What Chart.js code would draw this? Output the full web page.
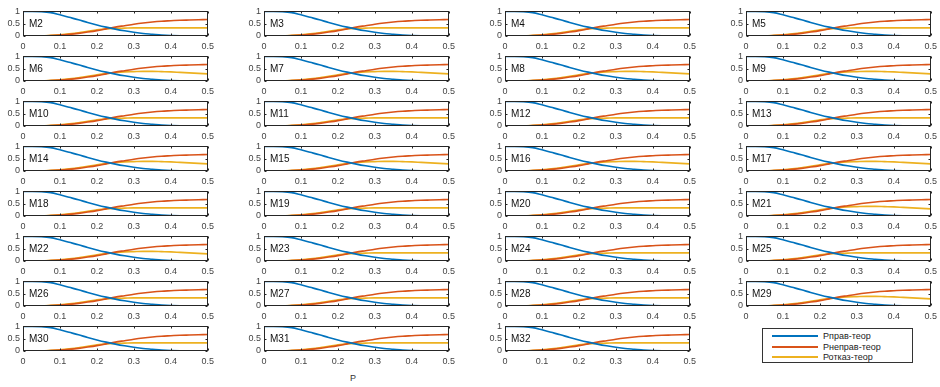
<!DOCTYPE html>
<html>
<head>
<meta charset="utf-8">
<script src="https://cdn.jsdelivr.net/npm/chart.js@4/dist/chart.umd.min.js"></script>
<style>
  body { margin: 0; background: #fff; }
  #wrap { position: relative; width: 940px; height: 387px; overflow: hidden; background: #fff; }
  #wrap canvas { position: absolute; }
  #legend {
    position: absolute; left: 762px; top: 328px; width: 151px; height: 35px;
    border: 1px solid #333; background: #fff; box-sizing: border-box;
    font: 9px "Liberation Sans", Arial, sans-serif; color: #222;
    padding-top: 2px;
  }
  #legend .row { display: flex; align-items: center; height: 10.5px; }
  #legend .sw { width: 46px; height: 2px; margin-left: 9px; margin-right: 5px; }
  #xlabel { position: absolute; left: 350px; top: 373px; font: 9px "Liberation Sans", Arial, sans-serif; color: #333; }
</style>
</head>
<body>
<div id="wrap">
  <div id="legend"></div>
  <div id="xlabel">P</div>
</div>
<script>
// probability values on the x axis
const pValues = [0, 0.025, 0.05, 0.075, 0.1, 0.125, 0.15, 0.175, 0.2, 0.225, 0.25,
                 0.275, 0.3, 0.325, 0.35, 0.375, 0.4, 0.425, 0.45, 0.475, 0.5];

const pPravTeor = [1.00, 1.00, 0.99, 0.95, 0.86, 0.76, 0.66, 0.55, 0.45, 0.36, 0.28,
                   0.21, 0.15, 0.10, 0.07, 0.04, 0.02, 0.01, 0.005, 0.002, 0.0];
const pNepravTeor = [0, 0.001, 0.005, 0.015, 0.035, 0.065, 0.105, 0.16, 0.22, 0.29, 0.36,
                     0.42, 0.48, 0.53, 0.57, 0.60, 0.62, 0.64, 0.65, 0.66, 0.67];
// two shapes of the refusal curve: flat tail and slight hump
const pOtkazFlat = [0, 0.001, 0.005, 0.025, 0.05, 0.085, 0.13, 0.19, 0.25, 0.29, 0.31,
                    0.32, 0.33, 0.33, 0.33, 0.33, 0.33, 0.33, 0.33, 0.33, 0.33];
const pOtkazHump = [0, 0.001, 0.005, 0.025, 0.05, 0.085, 0.13, 0.19, 0.25, 0.30, 0.34,
                    0.37, 0.38, 0.39, 0.39, 0.38, 0.37, 0.35, 0.33, 0.31, 0.29];

const panelNames = ['M2','M3','M4','M5','M6','M7','M8','M9','M10','M11','M12','M13',
                    'M14','M15','M16','M17','M18','M19','M20','M21','M22','M23','M24','M25',
                    'M26','M27','M28','M29','M30','M31','M32'];
const humpPanels = ['M6','M7','M8','M9','M14','M15','M16','M17','M21','M22','M29'];

const seriesLabels = ['Pправ-теор', 'Pнеправ-теор', 'Ротказ-теор'];
const seriesColors = ['#0072BD', '#D95319', '#EDB120'];

const yTicks = [0, 0.5, 1];
const xTicks = [0, 0.1, 0.2, 0.3, 0.4, 0.5];

// box around the axes, inward ticks and the panel name
const boxPlugin = {
  id: 'matlabBox',
  afterDraw(chart, args, opts) {
    const { ctx, chartArea: a, scales } = chart;
    ctx.save();
    ctx.strokeStyle = '#262626';
    ctx.lineWidth = 1;
    const l = Math.round(a.left) + 0.5, r = Math.round(a.right) - 0.5;
    const t = Math.round(a.top) + 0.5, b = Math.round(a.bottom) - 0.5;
    ctx.strokeRect(l, t, r - l, b - t);
    ctx.beginPath();
    xTicks.forEach(v => {
      const x = Math.round(scales.x.getPixelForValue(v)) + 0.5;
      ctx.moveTo(x, b); ctx.lineTo(x, b - 2);
      ctx.moveTo(x, t); ctx.lineTo(x, t + 2);
    });
    yTicks.forEach(v => {
      const y = Math.round(scales.y.getPixelForValue(v)) + 0.5;
      ctx.moveTo(l, y); ctx.lineTo(l + 2, y);
      ctx.moveTo(r, y); ctx.lineTo(r - 2, y);
    });
    ctx.stroke();
    ctx.fillStyle = '#111';
    ctx.font = '10px "Liberation Sans", Arial, sans-serif';
    ctx.textBaseline = 'middle';
    ctx.fillText(opts.text, a.left + 6, a.top + (a.bottom - a.top) * 0.52);
    ctx.restore();
  }
};

const wrap = document.getElementById('wrap');
const tickFont = { family: '"Liberation Sans", Arial, sans-serif', size: 9 };

panelNames.forEach((name, i) => {
  const col = i % 4, row = Math.floor(i / 4);
  const plotLeft = 22.5 + 241 * col;
  const plotTop = 11 + 45 * row;
  const canvas = document.createElement('canvas');
  canvas.width = 218; canvas.height = 47;
  canvas.style.left = Math.round(plotLeft - 22) + 'px';
  canvas.style.top = (plotTop - 8) + 'px';
  wrap.appendChild(canvas);

  const yellow = humpPanels.includes(name) ? pOtkazHump : pOtkazFlat;
  const series = [pPravTeor, pNepravTeor, yellow];

  new Chart(canvas, {
    type: 'line',
    data: {
      datasets: series.map((vals, k) => ({
        label: seriesLabels[k],
        data: pValues.map((p, j) => ({ x: p, y: vals[j] })),
        borderColor: seriesColors[k],
        borderWidth: 1.6,
        pointRadius: 0,
        cubicInterpolationMode: 'monotone',
        fill: false
      }))
    },
    options: {
      responsive: false,
      devicePixelRatio: 1,
      animation: false,
      layout: { padding: { top: 4, right: 11, left: 0, bottom: 0 } },
      plugins: {
        legend: { display: false },
        tooltip: { enabled: false },
        matlabBox: { text: name }
      },
      scales: {
        x: {
          type: 'linear', min: 0, max: 0.5,
          afterBuildTicks: s => { s.ticks = xTicks.map(v => ({ value: v })); },
          afterFit: s => { s.height = 14; },
          grid: { display: false, drawTicks: false },
          border: { display: false },
          ticks: { font: tickFont, color: '#444', padding: 5, maxRotation: 0,
                   autoSkip: false, callback: v => String(v) }
        },
        y: {
          min: 0, max: 1,
          afterBuildTicks: s => { s.ticks = yTicks.map(v => ({ value: v })); },
          afterFit: s => { s.width = 22; },
          grid: { display: false, drawTicks: false },
          border: { display: false },
          ticks: { font: tickFont, color: '#444', padding: 3,
                   autoSkip: false, callback: v => String(v) }
        }
      }
    },
    plugins: [boxPlugin]
  });
});

// legend box in the empty last cell
const legend = document.getElementById('legend');
seriesLabels.forEach((lab, k) => {
  const row = document.createElement('div');
  row.className = 'row';
  const sw = document.createElement('span');
  sw.className = 'sw';
  sw.style.background = seriesColors[k];
  const tx = document.createElement('span');
  tx.textContent = lab;
  row.appendChild(sw); row.appendChild(tx);
  legend.appendChild(row);
});
</script>
</body>
</html>
